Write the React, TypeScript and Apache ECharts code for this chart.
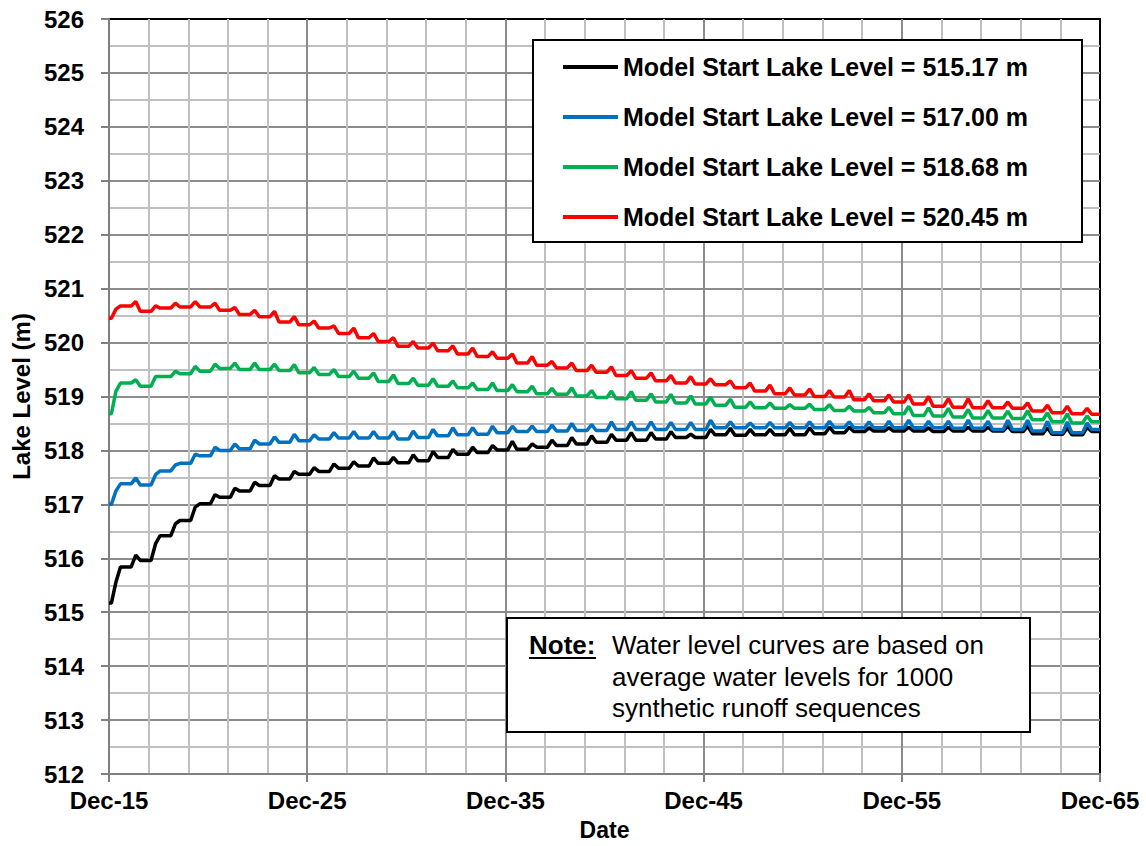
import React, { useEffect, useRef } from "react";
import * as echarts from "echarts";

// Years after Dec-2015; each year has a plateau level and a spring peak.
const xTickLabels = ["Dec-15", "Dec-25", "Dec-35", "Dec-45", "Dec-55", "Dec-65"];

const seriesNames = [
  "Model Start Lake Level = 515.17 m",
  "Model Start Lake Level = 517.00 m",
  "Model Start Lake Level = 518.68 m",
  "Model Start Lake Level = 520.45 m",
];
const seriesColors = ["#000000", "#0070C0", "#00B050", "#FF0000"];

// Plateau level at the start of each year (Dec-15 ... Dec-65)
const lowBlack = [
  515.17, 515.84, 515.96, 516.42, 516.7, 517.01, 517.13, 517.25, 517.35, 517.47,
  517.56, 517.61, 517.67, 517.71, 517.76, 517.77, 517.81, 517.87, 517.93, 517.96,
  518.01, 518.02, 518.06, 518.09, 518.12, 518.15, 518.19, 518.19, 518.21, 518.24,
  518.24, 518.29, 518.28, 518.29, 518.29, 518.29, 518.31, 518.33, 518.35, 518.36,
  518.36, 518.36, 518.35, 518.36, 518.36, 518.36, 518.35, 518.31, 518.3, 518.29,
  518.35,
];
// Seasonal peak within each year
const peakBlack = [
  515.56, 516.06, 516.27, 516.64, 516.95, 517.18, 517.3, 517.41, 517.53, 517.61,
  517.68, 517.75, 517.79, 517.86, 517.87, 517.92, 517.98, 518.02, 518.06, 518.09,
  518.17, 518.12, 518.19, 518.24, 518.27, 518.3, 518.33, 518.33, 518.35, 518.3,
  518.39, 518.41, 518.39, 518.39, 518.41, 518.42, 518.43, 518.43, 518.42, 518.42,
  518.43, 518.42, 518.43, 518.43, 518.43, 518.45, 518.45, 518.42, 518.42, 518.43,
];

const lowBlue = [
  517.0, 517.38, 517.36, 517.62, 517.76, 517.9, 518.0, 518.03, 518.12, 518.15,
  518.18, 518.21, 518.23, 518.23, 518.23, 518.21, 518.24, 518.27, 518.29, 518.3,
  518.33, 518.35, 518.35, 518.36, 518.37, 518.37, 518.39, 518.39, 518.39, 518.39,
  518.39, 518.42, 518.42, 518.42, 518.42, 518.42, 518.42, 518.43, 518.42, 518.42,
  518.42, 518.42, 518.42, 518.41, 518.41, 518.39, 518.39, 518.36, 518.33, 518.33,
  518.39,
];
const peakBlue = [
  517.25, 517.49, 517.55, 517.73, 517.93, 518.06, 518.12, 518.19, 518.25, 518.3,
  518.29, 518.33, 518.35, 518.35, 518.35, 518.36, 518.39, 518.42, 518.42, 518.45,
  518.45, 518.45, 518.47, 518.5, 518.48, 518.53, 518.53, 518.53, 518.52, 518.52,
  518.56, 518.53, 518.51, 518.52, 518.52, 518.53, 518.54, 518.53, 518.53, 518.54,
  518.56, 518.54, 518.54, 518.56, 518.54, 518.56, 518.56, 518.54, 518.53, 518.51,
];

const lowGreen = [
  518.68, 519.25, 519.19, 519.37, 519.42, 519.47, 519.52, 519.5, 519.5, 519.48,
  519.44, 519.41, 519.37, 519.34, 519.28, 519.24, 519.21, 519.19, 519.16, 519.13,
  519.11, 519.09, 519.05, 519.04, 519.01, 518.98, 518.96, 518.93, 518.9, 518.88,
  518.86, 518.84, 518.8, 518.79, 518.78, 518.78, 518.76, 518.74, 518.73, 518.7,
  518.68, 518.65, 518.64, 518.62, 518.6, 518.6, 518.59, 518.57, 518.53, 518.51,
  518.53,
];
const peakGreen = [
  519.1, 519.31, 519.37, 519.47, 519.56, 519.6, 519.62, 519.62, 519.6, 519.59,
  519.54, 519.5, 519.47, 519.44, 519.4, 519.34, 519.33, 519.29, 519.25, 519.25,
  519.22, 519.19, 519.15, 519.16, 519.11, 519.1, 519.09, 519.05, 519.04, 519.01,
  518.99, 518.95, 518.9, 518.88, 518.85, 518.86, 518.85, 518.82, 518.8, 518.8,
  518.82, 518.79, 518.78, 518.76, 518.74, 518.73, 518.74, 518.7, 518.68, 518.64,
];

const lowRed = [
  520.45, 520.68, 520.58, 520.64, 520.66, 520.66, 520.6, 520.52, 520.48, 520.38,
  520.33, 520.27, 520.17, 520.09, 520.02, 519.93, 519.9, 519.85, 519.79, 519.74,
  519.71, 519.62, 519.58, 519.53, 519.48, 519.45, 519.39, 519.34, 519.29, 519.25,
  519.23, 519.22, 519.16, 519.1, 519.05, 519.03, 519.0, 518.99, 518.94, 518.92,
  518.9, 518.86, 518.82, 518.8, 518.79, 518.79, 518.78, 518.73, 518.7, 518.68,
  518.67,
];
const peakRed = [
  520.62, 520.76, 520.68, 520.73, 520.76, 520.73, 520.65, 520.6, 520.58, 520.48,
  520.4, 520.31, 520.27, 520.17, 520.09, 520.02, 519.99, 519.94, 519.9, 519.83,
  519.79, 519.74, 519.65, 519.62, 519.58, 519.55, 519.48, 519.44, 519.39, 519.37,
  519.33, 519.29, 519.25, 519.21, 519.16, 519.14, 519.11, 519.11, 519.05, 519.03,
  519.03, 519.0, 518.96, 518.96, 518.92, 518.9, 518.88, 518.84, 518.82, 518.78,
];

const lows = [lowBlack, lowBlue, lowGreen, lowRed];
const peaks = [peakBlack, peakBlue, peakGreen, peakRed];

// Build a year-by-year trace: plateau, spring peak, then the next year's plateau.
function buildTrace(low: number[], peak: number[]): [number, number][] {
  const pts: [number, number][] = [[0, low[0]]];
  for (let i = 0; i < peak.length; i++) {
    pts.push([i + 0.12, low[i]]);
    pts.push([i + 0.35, peak[i]]);
    pts.push([i + 0.58, low[i + 1]]);
  }
  pts.push([peak.length, low[peak.length]]);
  return pts;
}

const FONT = "'Liberation Sans', Arial, Helvetica, sans-serif";

export default function App() {
  const ref = useRef<HTMLDivElement>(null);

  useEffect(() => {
    if (!ref.current) return;
    const chart = echarts.init(ref.current, null, { renderer: "svg" });

    const noteLines = [
      "Water level curves are based on",
      "average water levels for 1000",
      "synthetic runoff sequences",
    ];

    chart.setOption({
      animation: false,
      backgroundColor: "#ffffff",
      grid: {
        left: 109,
        right: 46,
        top: 19,
        bottom: 68,
        show: true,
        backgroundColor: "#ffffff",
        borderColor: "#000000",
        borderWidth: 2,
      },
      xAxis: {
        type: "value",
        min: 0,
        max: 50,
        interval: 10,
        name: "Date",
        nameLocation: "middle",
        nameGap: 44,
        nameTextStyle: { fontFamily: FONT, fontSize: 23, fontWeight: "bold", color: "#000" },
        axisLine: { show: true, lineStyle: { color: "#808080", width: 2 } },
        axisTick: { show: true, length: 8, lineStyle: { color: "#808080", width: 2 } },
        axisLabel: {
          margin: 14,
          fontFamily: FONT,
          fontSize: 24,
          fontWeight: "bold",
          color: "#000",
          formatter: (v: number) => xTickLabels[Math.round(v / 10)] ?? "",
        },
        splitLine: {
          show: true,
          showMinLine: false,
          showMaxLine: false,
          lineStyle: { color: "#8c8c8c", width: 2 },
        },
        minorTick: { show: false, splitNumber: 5 },
        minorSplitLine: { show: true, lineStyle: { color: "#c0c0c0", width: 2 } },
      },
      yAxis: {
        type: "value",
        min: 512,
        max: 526,
        interval: 1,
        name: "Lake Level (m)",
        nameLocation: "middle",
        nameGap: 75,
        nameTextStyle: { fontFamily: FONT, fontSize: 24, fontWeight: "bold", color: "#000" },
        axisLine: { show: true, lineStyle: { color: "#808080", width: 2 } },
        axisTick: { show: true, length: 8, lineStyle: { color: "#808080", width: 2 } },
        axisLabel: {
          margin: 25,
          fontFamily: FONT,
          fontSize: 24,
          fontWeight: "bold",
          color: "#000",
        },
        splitLine: {
          show: true,
          showMinLine: false,
          showMaxLine: false,
          lineStyle: { color: "#8c8c8c", width: 2 },
        },
        minorTick: { show: false, splitNumber: 2 },
        minorSplitLine: { show: true, lineStyle: { color: "#c0c0c0", width: 2 } },
      },
      legend: {
        show: true,
        orient: "vertical",
        left: 563,
        top: 52,
        padding: 0,
        icon: "rect",
        itemWidth: 55,
        itemHeight: 4,
        itemGap: 20,
        selectedMode: false,
        z: 20,
        textStyle: {
          fontFamily: FONT,
          fontSize: 25,
          fontWeight: "bold",
          color: "#000",
          lineHeight: 30,
        },
        data: seriesNames,
      },
      graphic: [
        {
          type: "rect",
          z: 10,
          shape: { x: 533, y: 40, width: 549, height: 202 },
          style: { fill: "#ffffff", stroke: "#000000", lineWidth: 2 },
        },
        {
          type: "rect",
          z: 10,
          shape: { x: 507, y: 618, width: 523, height: 114 },
          style: { fill: "#ffffff", stroke: "#000000", lineWidth: 2 },
        },
        {
          type: "text",
          z: 11,
          x: 529,
          y: 645,
          style: {
            text: "Note:",
            fontFamily: FONT,
            fontSize: 26,
            fontWeight: "bold",
            fill: "#000",
            verticalAlign: "middle",
          },
        },
        {
          type: "line",
          z: 11,
          shape: { x1: 529, y1: 658, x2: 596, y2: 658 },
          style: { stroke: "#000", lineWidth: 2 },
        },
        ...noteLines.map((t, i) => ({
          type: "text",
          z: 11,
          x: 612,
          y: 645 + i * 31.5,
          style: {
            text: t,
            fontFamily: FONT,
            fontSize: 26,
            fill: "#000",
            verticalAlign: "middle",
          },
        })),
      ],
      series: seriesNames.map((name, k) => ({
        name,
        type: "line",
        symbol: "none",
        z: 3,
        data: buildTrace(lows[k], peaks[k]),
        lineStyle: { color: seriesColors[k], width: 3.5 },
        itemStyle: { color: seriesColors[k] },
      })),
    });

    return () => chart.dispose();
  }, []);

  return (
    <div
      ref={ref}
      style={{ position: "fixed", left: 0, top: 0, width: 1146, height: 846, background: "#fff" }}
    />
  );
}
